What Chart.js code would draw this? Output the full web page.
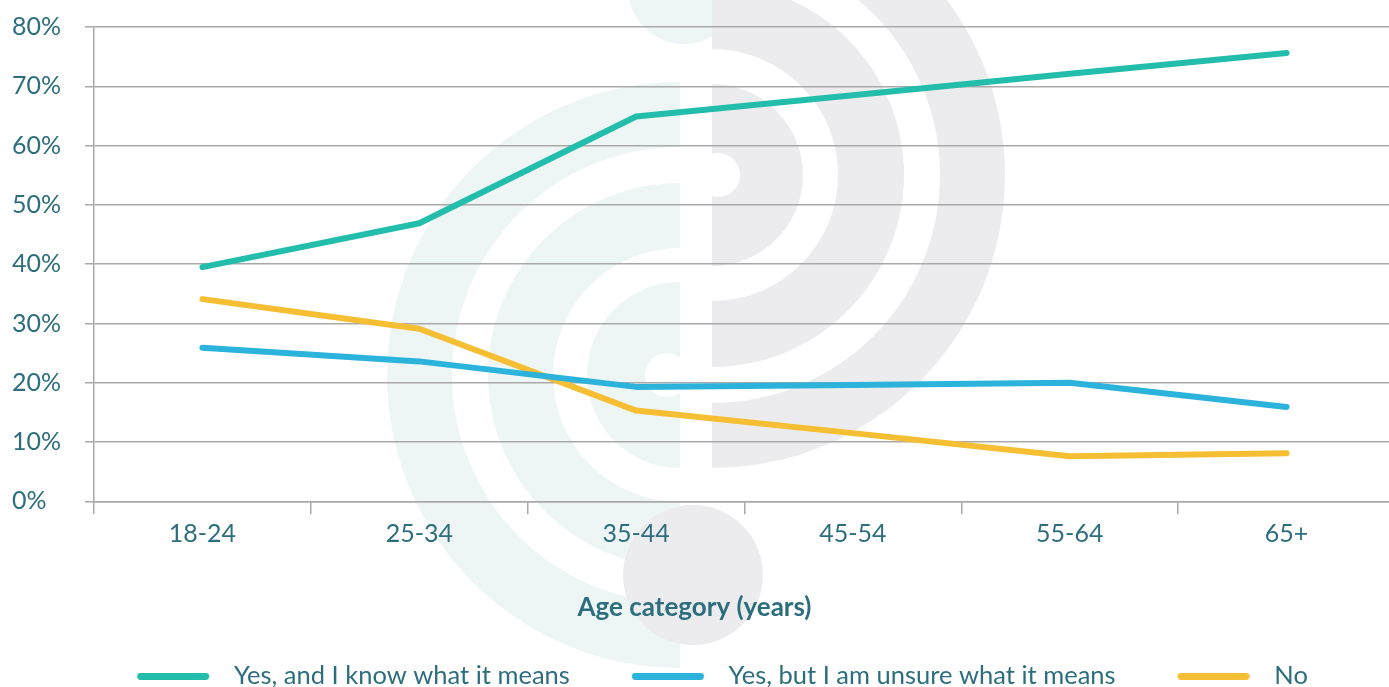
<!DOCTYPE html>
<html>
<head>
<meta charset="utf-8">
<script src="https://cdn.jsdelivr.net/npm/chart.js@4/dist/chart.umd.min.js"></script>
<style>
  html, body { margin: 0; padding: 0; background: #fff; overflow: hidden; }
  #wrap { width: 1389px; height: 687px; overflow: hidden; }
  #inner { width: 1395px; height: 687px; position: relative; }
</style>
</head>
<body>
<div id="wrap"><div id="inner"><canvas id="chart"></canvas></div></div>
<script>
const ageGroups = ['18-24', '25-34', '35-44', '45-54', '55-64', '65+'];
const knowMeaning = [39.5, 46.9, 64.9, 68.5, 72.1, 75.6];
const unsureMeaning = [25.9, 23.6, 19.3, 19.6, 20.0, 15.9];
const noAnswer = [34.1, 29.1, 15.3, 11.5, 7.6, 8.1];
const seriesNames = ['Yes, and I know what it means', 'Yes, but I am unsure what it means', 'No'];
const yTicks = [0, 10, 20, 30, 40, 50, 60, 70, 80];
const xTitle = 'Age category (years)';

const textColor = '#2d6e7e';
const gridColor = '#a9a9a9';
const fontFamily = 'Lato, "Open Sans", sans-serif';
const titleGap = 32;

// faint logo behind the plot
const watermark = {
  id: 'watermark',
  beforeDraw(chart) {
    const ctx = chart.ctx;
    ctx.save();
    const teal = '#eef5f5';
    const grey = '#ececee';

    function halfRing(cx, cy, r1, r2, a0, a1, color) {
      ctx.beginPath();
      ctx.arc(cx, cy, r2, a0, a1);
      ctx.arc(cx, cy, r1, a1, a0, true);
      ctx.closePath();
      ctx.fillStyle = color;
      ctx.fill();
    }
    function disc(cx, cy, r, a0, a1, color) {
      ctx.beginPath();
      ctx.moveTo(cx, cy);
      ctx.arc(cx, cy, r, a0, a1);
      ctx.closePath();
      ctx.fillStyle = color;
      ctx.fill();
    }

    halfRing(680, 375, 228, 293, Math.PI / 2, Math.PI * 1.5, teal);
    halfRing(680, 375, 127, 192, Math.PI / 2, Math.PI * 1.5, teal);
    disc(680, 375, 93, Math.PI / 2, Math.PI * 1.5, teal);
    disc(667, 375, 22, 0, Math.PI * 2, '#fff');
    disc(684, -12, 56, 0, Math.PI * 2, teal);

    halfRing(712, 175, 228, 293, -Math.PI / 2, Math.PI / 2, grey);
    halfRing(712, 175, 126, 192, -Math.PI / 2, Math.PI / 2, grey);
    disc(712, 175, 91, -Math.PI / 2, Math.PI / 2, grey);
    disc(718, 175, 22, 0, Math.PI * 2, '#fff');
    disc(693, 575, 70, 0, Math.PI * 2, grey);
    ctx.restore();
  },
  afterLayout(chart) {
    // legend row sits a little left of the plot centre
    chart.legend.left -= 8;
    chart.legend.right -= 8;
  },
  // axis title is centred on the page, not on the plot area
  afterDraw(chart) {
    const ctx = chart.ctx;
    const x = chart.scales.x;
    ctx.save();
    ctx.font = 'bold 26px ' + fontFamily;
    ctx.fillStyle = textColor;
    ctx.textAlign = 'center';
    ctx.textBaseline = 'middle';
    ctx.fillText(xTitle, 694.5, x.bottom - titleGap - 26 * 1.2 / 2);
    ctx.restore();
  }
};

// legend swatch: a rounded bar, with blank room on the left for spacing between items
function swatch(color) {
  const c = document.createElement('canvas');
  c.width = 54 + 72 + 12;
  c.height = 7;
  const g = c.getContext('2d');
  g.strokeStyle = color;
  g.lineWidth = 7;
  g.lineCap = 'round';
  g.beginPath();
  g.moveTo(54 + 3.5, 3.5);
  g.lineTo(54 + 72 - 3.5, 3.5);
  g.stroke();
  return c;
}

const ctx = document.getElementById('chart').getContext('2d');

new Chart(ctx, {
  type: 'line',
  data: {
    labels: ageGroups,
    datasets: [
      { label: seriesNames[0], data: knowMeaning, borderColor: '#22bdab', backgroundColor: '#22bdab' },
      { label: seriesNames[1], data: unsureMeaning, borderColor: '#2bb3dc', backgroundColor: '#2bb3dc' },
      { label: seriesNames[2], data: noAnswer, borderColor: '#f6bf33', backgroundColor: '#f6bf33' }
    ]
  },
  options: {
    responsive: true,
    maintainAspectRatio: false,
    animation: false,
    layout: { padding: { top: 18, right: 0, left: 12, bottom: -12 } },
    elements: {
      line: { borderWidth: 6, borderCapStyle: 'round', borderJoinStyle: 'round', tension: 0 },
      point: { radius: 0, hoverRadius: 0 }
    },
    plugins: {
      tooltip: { enabled: false },
      legend: {
        position: 'bottom',
        labels: {
          color: textColor,
          font: { family: fontFamily, size: 25.5 },
          usePointStyle: true,
          pointStyleWidth: 138,
          boxHeight: 7,
          padding: 8,
          generateLabels(chart) {
            return chart.data.datasets.map((ds, i) => ({
              text: ds.label,
              pointStyle: swatch(ds.borderColor),
              fillStyle: ds.borderColor,
              strokeStyle: ds.borderColor,
              lineWidth: 0,
              fontColor: textColor,
              datasetIndex: i
            }));
          }
        }
      }
    },
    scales: {
      x: {
        offset: true,
        grid: {
          offset: true,
          drawOnChartArea: false,
          drawTicks: true,
          tickLength: 13,
          color: gridColor,
          lineWidth: 1.5
        },
        border: { display: true, color: gridColor, width: 1.5 },
        ticks: {
          color: textColor,
          font: { family: fontFamily, size: 25 },
          padding: 5
        },
        title: {
          // reserves the space; the text itself is painted by the watermark plugin
          display: true,
          text: xTitle,
          color: 'rgba(0,0,0,0)',
          font: { family: fontFamily, size: 26, weight: 'bold' },
          padding: { top: 38, bottom: titleGap }
        }
      },
      y: {
        min: 0,
        max: 80,
        grid: {
          color: gridColor,
          lineWidth: 1.5,
          drawTicks: true,
          tickLength: 9
        },
        border: { display: true, color: gridColor, width: 1.5 },
        afterBuildTicks(scale) {
          scale.ticks = yTicks.map(v => ({ value: v }));
        },
        ticks: {
          color: textColor,
          font: { family: fontFamily, size: 25 },
          crossAlign: 'far',
          padding: 12,
          callback: v => v + '%'
        }
      }
    }
  },
  plugins: [watermark]
});
</script>
</body>
</html>
